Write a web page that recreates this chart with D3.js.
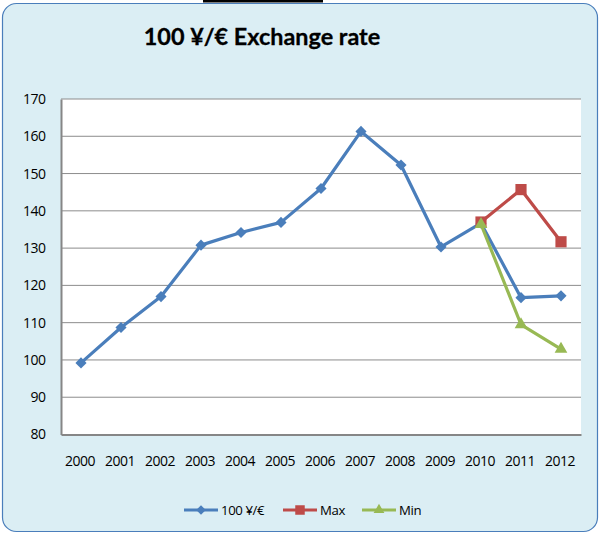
<!DOCTYPE html>
<html>
<head>
<meta charset="utf-8">
<script src="https://cdn.jsdelivr.net/npm/d3@7"></script>
<style>
    body { margin: 0; background: #ffffff; }
    svg { display: block; }
</style>
</head>
<body>
<div id="chart"></div>
<script>
// data
const years = ["2000", "2001", "2002", "2003", "2004", "2005", "2006", "2007", "2008", "2009", "2010", "2011", "2012"];
const rateValues = [99.2, 108.7, 117.0, 130.8, 134.2, 136.9, 146.0, 161.3, 152.3, 130.3, 136.7, 116.7, 117.2];
const maxYears = ["2010", "2011", "2012"];
const maxValues = [137.0, 145.7, 131.7];
const minYears = ["2010", "2011", "2012"];
const minValues = [136.4, 109.5, 102.9];
const yTicks = [80, 90, 100, 110, 120, 130, 140, 150, 160, 170];
const seriesNames = ["100 ¥/€", "Max", "Min"];

const W = 600, H = 533;
const margin = { top: 99, right: 19, bottom: 98.5, left: 61 };
const width = W - margin.left - margin.right;
const height = H - margin.top - margin.bottom;
const font = "'Open Sans', sans-serif";

const svg = d3.select("#chart").append("svg")
    .attr("width", W)
    .attr("height", H);

// black bar at the very top
svg.append("rect")
    .attr("x", 203).attr("y", 0)
    .attr("width", 120).attr("height", 2.5)
    .attr("fill", "#000");

// chart frame
svg.append("rect")
    .attr("x", 2.5).attr("y", 3.5)
    .attr("width", 595).attr("height", 528)
    .attr("rx", 14).attr("ry", 14)
    .attr("fill", "#dbeef4")
    .attr("stroke", "#4a7ebb")
    .attr("stroke-width", 1.2);

svg.append("text")
    .attr("x", 262).attr("y", 45)
    .attr("text-anchor", "middle")
    .attr("font-family", "Lato, sans-serif")
    .attr("font-weight", "bold")
    .attr("font-size", 23.4)
    .attr("fill", "#000")
    .attr("stroke", "#000")
    .attr("stroke-width", 0.3)
    .text("100 ¥/€ Exchange rate");

const g = svg.append("g")
    .attr("transform", "translate(" + margin.left + "," + margin.top + ")");

g.append("rect")
    .attr("width", width).attr("height", height)
    .attr("fill", "#fff");

let x = d3.scalePoint()
    .domain(years)
    .range([0, width])
    .padding(0.5);

let y = d3.scaleLinear()
    .domain([80, 170])
    .range([height, 0]);

// gridlines
g.append("g")
    .selectAll("line")
    .data(yTicks.slice(1))
    .enter()
    .append("line")
    .attr("x1", 0).attr("x2", width)
    .attr("y1", d => y(d)).attr("y2", d => y(d))
    .attr("stroke", "#8c8c8c")
    .attr("stroke-width", 1);

// axes
let yAxis = g.append("g")
    .call(d3.axisLeft(y).tickValues(yTicks).tickSize(0).tickPadding(15.5));
let xAxis = g.append("g")
    .attr("transform", "translate(0," + height + ")")
    .call(d3.axisBottom(x).tickSize(0).tickPadding(22));

[yAxis, xAxis].forEach(a => {
    a.select(".domain").attr("stroke", "#868686").attr("stroke-width", 2);
    a.selectAll("text")
        .attr("font-family", font)
        .attr("font-size", 14)
        .attr("letter-spacing", -0.5)
        .attr("fill", "#000");
});
xAxis.selectAll("text").attr("dx", -1.5);

const diamond = d3.symbol().type(d3.symbolSquare).size(62);
const series = [
    { name: seriesNames[0], color: "#4a7ebb", data: years.map((d, i) => ({ year: d, value: rateValues[i] })), marker: diamond, rot: 45 },
    { name: seriesNames[1], color: "#be4b48", data: maxYears.map((d, i) => ({ year: d, value: maxValues[i] })), marker: d3.symbol().type(d3.symbolSquare).size(125), rot: 0 },
    { name: seriesNames[2], color: "#98b954", data: minYears.map((d, i) => ({ year: d, value: minValues[i] })), marker: d3.symbol().type(d3.symbolTriangle).size(70), rot: 0 }
];

let line = d3.line()
    .x(d => x(d.year))
    .y(d => y(d.value));

series.forEach(s => {
    g.append("path")
        .datum(s.data)
        .attr("d", line)
        .attr("fill", "none")
        .attr("stroke", s.color)
        .attr("stroke-width", 3.2)
        .attr("stroke-linejoin", "round");
    g.selectAll(null)
        .data(s.data)
        .enter()
        .append("path")
        .attr("transform", d => "translate(" + x(d.year) + "," + y(d.value) + ") rotate(" + s.rot + ")")
        .attr("d", s.marker)
        .attr("fill", s.color);
});

// legend
const legendX = [184, 283, 362];
const legend = svg.append("g").attr("transform", "translate(0,510)");
series.forEach((s, i) => {
    let lg = legend.append("g").attr("transform", "translate(" + legendX[i] + ",0)");
    lg.append("line")
        .attr("x1", 0).attr("x2", 34)
        .attr("stroke", s.color)
        .attr("stroke-width", 3.2);
    lg.append("path")
        .attr("transform", "translate(17,0) rotate(" + s.rot + ") scale(0.85)")
        .attr("d", s.marker)
        .attr("fill", s.color);
    lg.append("text")
        .attr("x", 37).attr("y", 5)
        .attr("font-family", font)
        .attr("font-size", 13.2)
        .attr("letter-spacing", -0.4)
        .attr("fill", "#000")
        .text(s.name);
});
</script>
</body>
</html>
